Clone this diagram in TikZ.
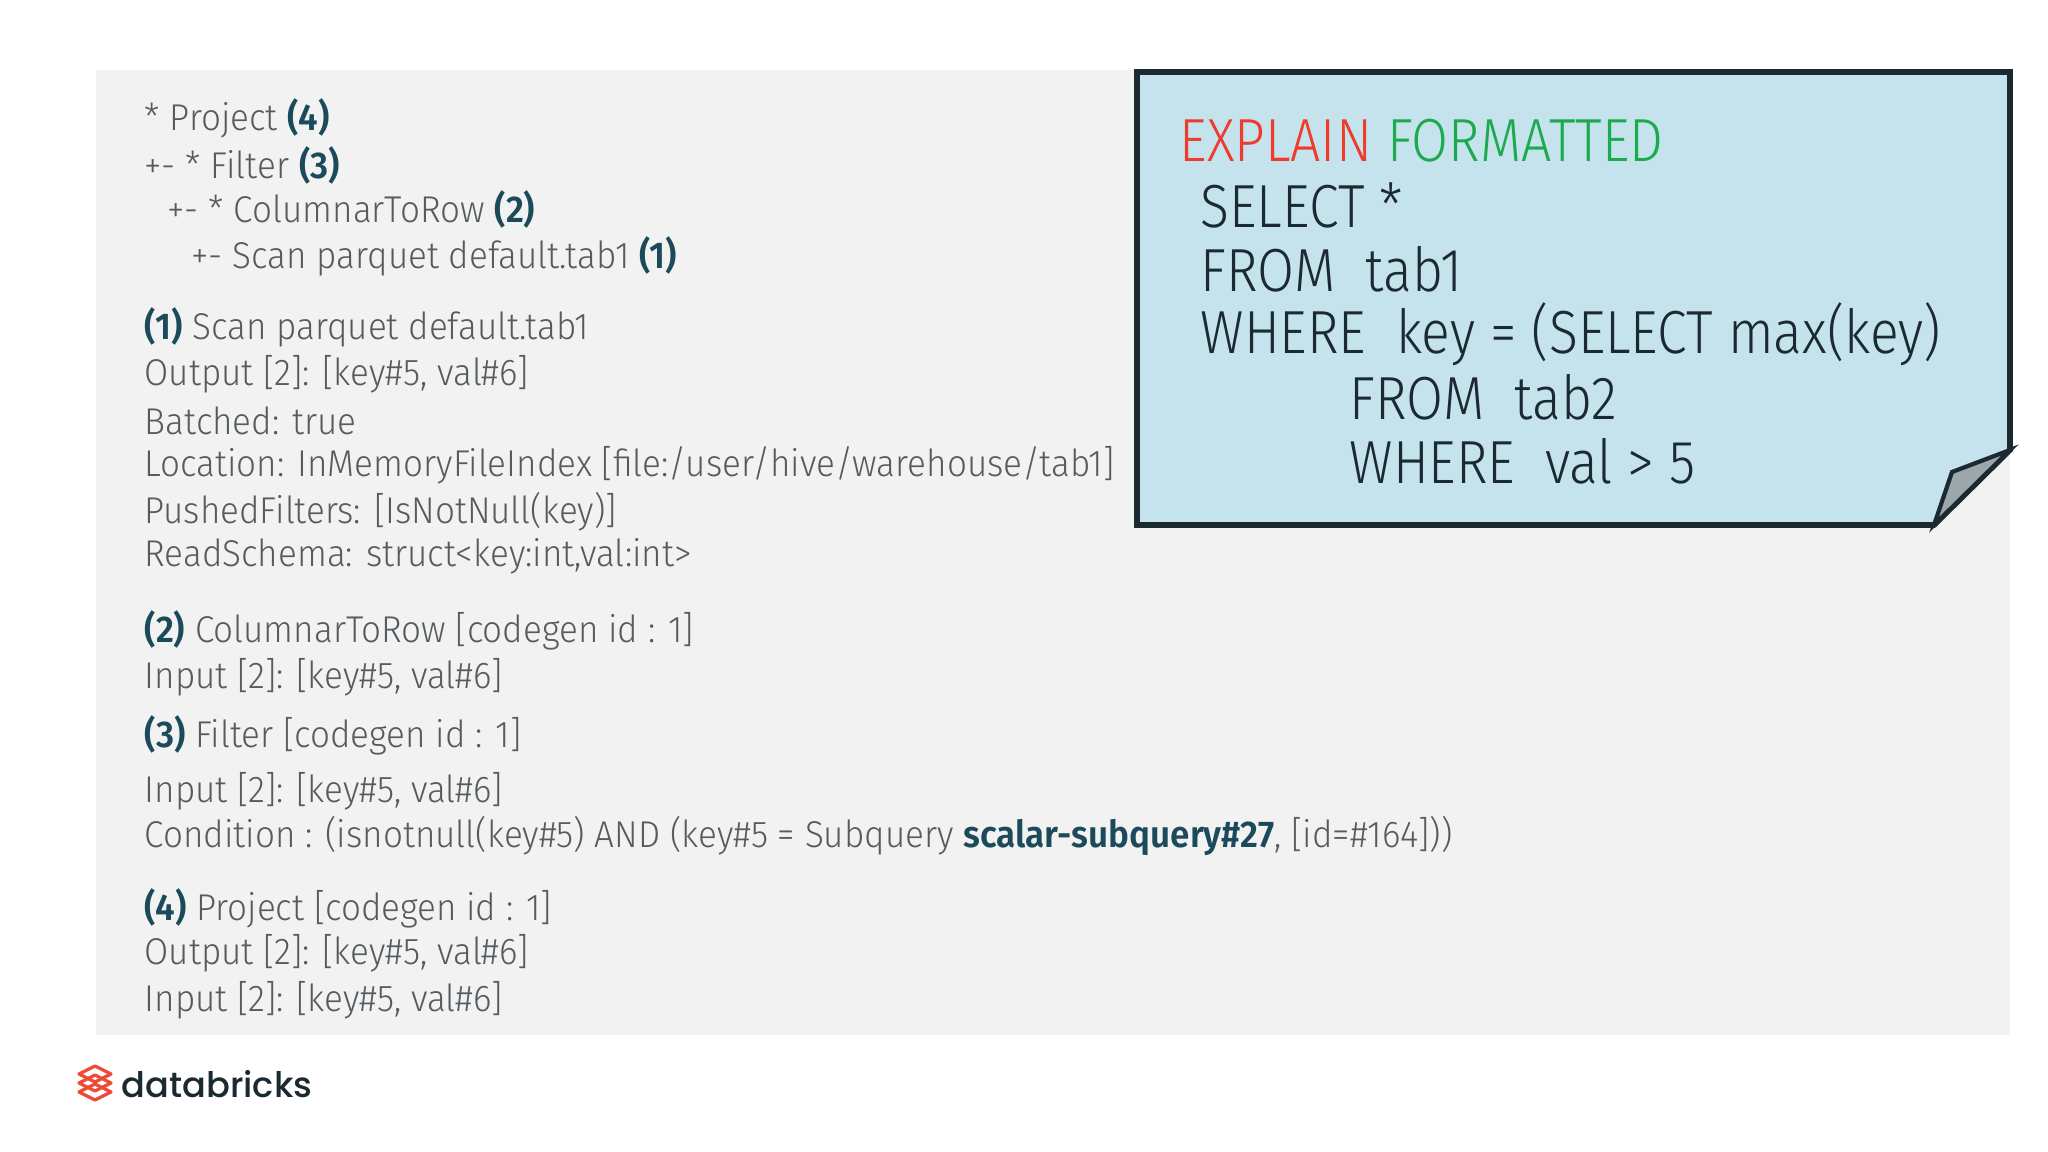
\documentclass[tikz,border=0pt]{standalone}
\usepackage{fontspec}
\setmainfont{Fira Sans Light}[BoldFont=Fira Sans SemiBold, FakeStretch=0.94]
\newfontfamily\notefont{Fira Sans Light}[FakeStretch=0.88]
\newfontfamily\logofont{Poppins Medium}
\definecolor{txt}{HTML}{555B5E}
\definecolor{teal}{HTML}{1B4B5A}
\definecolor{notefill}{HTML}{C5E3EC}
\definecolor{dark}{HTML}{1B2A30}
\definecolor{panel}{HTML}{F2F2F3}
\definecolor{exred}{HTML}{EE3B2B}
\definecolor{exgreen}{HTML}{1DAA4F}
\definecolor{dbred}{HTML}{EE4B36}
\begin{document}
\begin{tikzpicture}[x=0.01cm,y=-0.01cm,
  lt/.style={anchor=west,inner sep=0pt,text=txt,font=\fontsize{10.6pt}{12pt}\selectfont},
  nt/.style={anchor=west,inner sep=0pt,text=dark,font=\notefont\fontsize{17.3pt}{20pt}\selectfont}]
\useasboundingbox (0,0) rectangle (2048,1152);
\fill[white] (0,0) rectangle (2048,1152);
\fill[panel] (96,70) rectangle (2010,1035);
\newcommand{\bb}[1]{\textbf{\color{teal}#1}}
\node[lt] (l1) at (144,118) {* Project \bb{(4)}};
\node[lt] (l2) at (144,165) {+- * Filter \bb{(3)}};
\node[lt] (l3) at (167,209) {+- * ColumnarToRow \bb{(2)}};
\node[lt] (l4) at (191,256) {+- Scan parquet default.tab1 \bb{(1)}};
\node[lt] (a1) at (144,327) {\bb{(1)} Scan parquet default.tab1};
\node[lt] (a2) at (144,374) {Output [2]: [key\#5, val\#6]};
\node[lt] (a3) at (144,421) {Batched: true};
\node[lt] (a4) at (144,465) {Location: InMemoryFileIndex [file:/user/hive/warehouse/tab1]};
\node[lt] (a5) at (144,512) {PushedFilters: [IsNotNull(key)]};
\node[lt] (a6) at (144,556) {ReadSchema: struct<key:int,val:int>};
\node[lt] (b1) at (144,630) {\bb{(2)} ColumnarToRow [codegen id : 1]};
\node[lt] (b2) at (144,677) {Input [2]: [key\#5, val\#6]};
\node[lt] (c1) at (144,735) {\bb{(3)} Filter [codegen id : 1]};
\node[lt] (c2) at (144,791) {Input [2]: [key\#5, val\#6]};
\node[lt] (c3) at (144,836) {Condition : (isnotnull(key\#5) AND (key\#5 = Subquery \bb{scalar-subquery\#27}, [id=\#164]))};
\node[lt] (d1) at (144,908) {\bb{(4)} Project [codegen id : 1]};
\node[lt] (d2) at (144,953) {Output [2]: [key\#5, val\#6]};
\node[lt] (d3) at (144,1000) {Input [2]: [key\#5, val\#6]};
% note
\draw[dark,line width=1.6pt,fill=notefill] (1137,72) -- (2010,72) -- (2010,450) -- (1934,525) -- (1137,525) -- cycle;
\draw[dark,line width=1.2pt,fill=gray!60!notefill] (2010,450) -- (1952,472) -- (1934,525) -- cycle;
\node[nt] (n1) at (1179,141) {\color{exred}EXPLAIN \color{exgreen}FORMATTED};
\node[nt] (n2) at (1200,205) {SELECT *};
\node[nt] (n3) at (1200,269) {FROM\ \ tab1};
\node[nt] (n4) at (1200,334) {WHERE\ \ key = (SELECT max(key)};
\node[nt] (n5) at (1349,397) {FROM\ \ tab2};
\node[nt] (n6) at (1349,461) {WHERE\ \ val > 5};
% logo
\foreach \dy in {0,9,18}{
  \draw[dbred,line width=0.9pt,line join=round] (79,1074+\dy) -- (95,1066+\dy) -- (111,1074+\dy) -- (95,1082+\dy) -- cycle;
}
\node[anchor=west,inner sep=0pt,text=dark,font=\logofont\fontsize{10pt}{12pt}\selectfont] (logo) at (121,1084) {databricks};
\end{tikzpicture}
\end{document}
